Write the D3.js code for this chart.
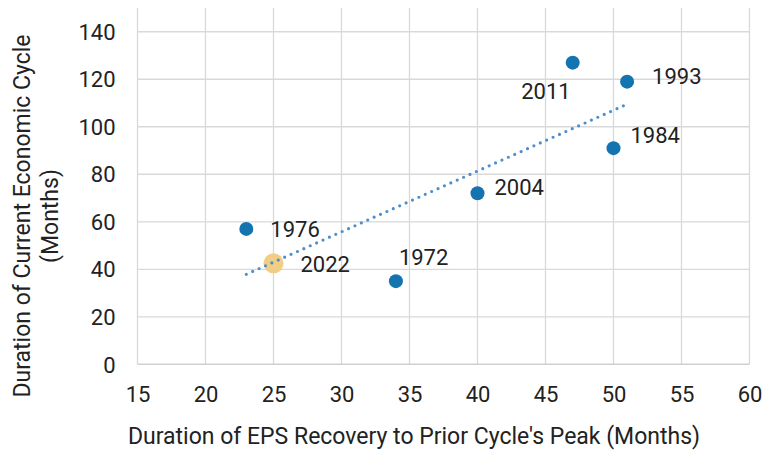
<!DOCTYPE html>
<html><head><meta charset="utf-8">
<script src="https://cdn.jsdelivr.net/npm/d3@7"></script>
<style>
html,body{margin:0;padding:0;background:#fff;}
svg{display:block;font-family:Roboto,"Noto Sans",sans-serif;}
</style></head>
<body>
<svg id="chart" width="763" height="451"></svg>
<script>
// Data
const years = ["1972","1976","1984","1993","2004","2011","2022"];
const epsRecovery = [34, 23, 50, 51, 40, 47, 25];     // x (months)
const cycleDuration = [35, 57, 91, 119, 72, 127, 42.5]; // y (months)
const highlightYear = "2022";
const xTicks = [15,20,25,30,35,40,45,50,55,60];
const yTicks = [0,20,40,60,80,100,120,140];
const xTitle = "Duration of EPS Recovery to Prior Cycle's Peak (Months)";
const yTitleLines = ["Duration of Current Economic Cycle", "(Months)"];

// label placement (pixels, style only)
const labelPlace = {
  "1972": {dx: 3, dy: -16, anchor: "start"},
  "1976": {dx: 24, dy: 8, anchor: "start"},
  "1984": {dx: 17, dy: -5, anchor: "start"},
  "1993": {dx: 25, dy: 2, anchor: "start"},
  "2004": {dx: 17, dy: 2, anchor: "start"},
  "2011": {dx: -2, dy: 36, anchor: "end"},
  "2022": {dx: 27, dy: 8.5, anchor: "start"}
};

const svg = d3.select("#chart");
const x = d3.scaleLinear().domain([15, 60]).range([137.5, 749.5]);
const y = d3.scaleLinear().domain([0, 150]).range([364.3, 8]);

const points = years.map((yr, i) => ({year: yr, x: epsRecovery[i], y: cycleDuration[i]}));

// gridlines
const g = svg.append("g");
g.selectAll("line.vg").data(xTicks).join("line")
  .attr("x1", d => x(d)).attr("x2", d => x(d))
  .attr("y1", y(150)).attr("y2", y(0))
  .attr("stroke", "#d9d9d9").attr("stroke-width", 1.3);
g.selectAll("line.hg").data(yTicks.filter(d => d > 0)).join("line")
  .attr("x1", x(15)).attr("x2", x(60))
  .attr("y1", d => y(d)).attr("y2", d => y(d))
  .attr("stroke", "#d9d9d9").attr("stroke-width", 1.3);
g.append("line").attr("x1", x(15)).attr("x2", x(60)).attr("y1", y(0)).attr("y2", y(0))
  .attr("stroke", "#d0d0d0").attr("stroke-width", 1.5);

// axes (labels only)
const xAxis = svg.append("g").attr("transform", `translate(0,${y(0)})`)
  .call(d3.axisBottom(x).tickValues(xTicks).tickSize(0).tickPadding(0).tickFormat(d3.format("d")));
xAxis.select(".domain").remove();
xAxis.selectAll("text").attr("font-size", 22).attr("fill", "#222").attr("y", 0).attr("dy", "38px")
  .attr("font-family", "Roboto");

const yAxis = svg.append("g").attr("transform", `translate(${x(15)},0)`)
  .call(d3.axisLeft(y).tickValues(yTicks).tickSize(0).tickPadding(22).tickFormat(d3.format("d")));
yAxis.select(".domain").remove();
yAxis.selectAll("text").attr("font-size", 22).attr("fill", "#222").attr("dy", "0.35em")
  .attr("font-family", "Roboto");

// titles
svg.append("text").attr("x", 414).attr("y", 444).attr("text-anchor", "middle")
  .attr("font-size", 23).attr("fill", "#222").text(xTitle);
const yt = svg.append("text").attr("transform", "translate(0,216) rotate(-90)")
  .attr("text-anchor", "middle").attr("font-size", 23).attr("fill", "#222");
yTitleLines.forEach((t, i) => {
  yt.append("tspan").attr("x", 0).attr("y", 30 + i * 28).text(t);
});

// points
const main = points.filter(p => p.year !== highlightYear);
const hi = points.filter(p => p.year === highlightYear);
svg.selectAll("circle.hi").data(hi).join("circle")
  .attr("cx", d => x(d.x)).attr("cy", d => y(d.y)).attr("r", 10)
  .attr("fill", "#f1cd85");
svg.selectAll("circle.pt").data(main).join("circle")
  .attr("cx", d => x(d.x)).attr("cy", d => y(d.y)).attr("r", 7)
  .attr("fill", "#1474b0");

// linear trendline over historical points
const mx = d3.mean(main, d => d.x), my = d3.mean(main, d => d.y);
const slope = d3.sum(main, d => (d.x - mx) * (d.y - my)) / d3.sum(main, d => (d.x - mx) ** 2);
const icpt = my - slope * mx;
const [x0, x1] = d3.extent(main, d => d.x);
svg.append("line")
  .attr("x1", x(x0)).attr("y1", y(icpt + slope * x0))
  .attr("x2", x(x1)).attr("y2", y(icpt + slope * x1))
  .attr("stroke", "#4d8fcc").attr("stroke-width", 3.2)
  .attr("stroke-linecap", "round").attr("stroke-dasharray", "0,7");

// labels
svg.selectAll("text.lbl").data(points).join("text")
  .attr("x", d => x(d.x) + labelPlace[d.year].dx)
  .attr("y", d => y(d.y) + labelPlace[d.year].dy)
  .attr("text-anchor", d => labelPlace[d.year].anchor)
  .attr("font-size", 22).attr("fill", "#222").text(d => d.year);
</script>
</body></html>
